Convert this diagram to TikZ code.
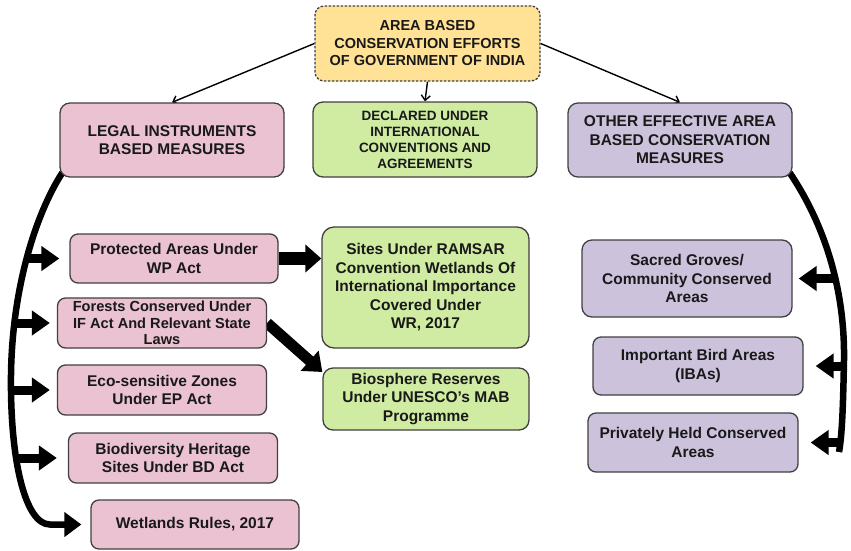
\documentclass[tikz,border=0pt]{standalone}
\usepackage{fontspec}
\setmainfont{Liberation Sans}
\usepackage{xcolor}
\usetikzlibrary{arrows.meta,calc,backgrounds}

\definecolor{edge}{RGB}{64,64,64}
\definecolor{ink}{RGB}{25,25,25}
\definecolor{headfill}{RGB}{255,226,150}
\definecolor{legalfill}{RGB}{234,194,209}
\definecolor{intlfill}{RGB}{207,236,162}
\definecolor{oecmfill}{RGB}{205,194,220}

\begin{document}
\begin{tikzpicture}[x=1pt,y=-1pt,
    box/.style={draw=edge, line width=1.3pt, rounded corners=8pt, align=center,
        inner sep=1pt, text=ink, font=\bfseries\fontsize{15.5}{18.5}\selectfont},
    legalbox/.style={box, fill=legalfill, minimum width=209pt, minimum height=50pt},
    intlbox/.style={box, fill=intlfill, minimum width=207pt},
    oecmbox/.style={box, fill=oecmfill, minimum width=210pt},
    thin/.style={line width=1.4pt, -{Straight Barb[length=5pt,width=9pt]}},
    fat/.style={line width=9pt, -{Triangle[width=24pt,length=18pt]}},
    spine/.style={line width=6.5pt}]
    \useasboundingbox (0,0) rectangle (851,550);

    % top level
    \node[box, fill=headfill, dash pattern=on 2.5pt off 1.5pt, rounded corners=9pt,
        minimum width=225pt, minimum height=75pt,
        font=\bfseries\fontsize{14.5}{17.5}\selectfont] (top) at (427.5,43.5)
        {AREA BASED\\CONSERVATION EFFORTS\\OF GOVERNMENT OF INDIA};

    % three groups
    \node[legalbox, minimum width=224pt, minimum height=74pt, rounded corners=10pt] (legal) at (172,140)
        {LEGAL INSTRUMENTS\\BASED MEASURES};
    \node[intlbox, minimum width=224pt, minimum height=75pt, rounded corners=10pt,
        font=\bfseries\fontsize{13.5}{15.9}\selectfont] (decl) at (425,139.5)
        {DECLARED UNDER\\INTERNATIONAL\\CONVENTIONS AND\\AGREEMENTS};
    \node[oecmbox, minimum width=224pt, minimum height=74pt, rounded corners=10pt] (other) at (680,140)
        {OTHER EFFECTIVE AREA\\BASED CONSERVATION\\MEASURES};

    % legal instruments
    \node[legalbox, minimum width=208pt, minimum height=49pt] (prot) at (174,258.5)
        {Protected Areas Under\\WP Act};
    \node[legalbox, font=\bfseries\fontsize{14.6}{16.3}\selectfont] (forest) at (162,323)
        {Forests Conserved Under\\IF Act And Relevant State\\Laws};
    \node[legalbox] (eco) at (162,390) {Eco-sensitive Zones\\Under EP Act};
    \node[legalbox] (bio) at (173,458) {Biodiversity Heritage\\Sites Under BD Act};
    \node[legalbox, minimum width=208pt, minimum height=49pt] (wet) at (195,524.5)
        {Wetlands Rules, 2017};

    % international designations
    \node[intlbox, minimum height=121pt, rounded corners=12pt] (ramsar) at (425.5,287.5)
        {Sites Under RAMSAR\\Convention Wetlands Of\\International Importance\\Covered Under\\WR, 2017};
    \node[intlbox, minimum width=206pt, minimum height=62pt, rounded corners=10pt] (bios) at (426,399)
        {Biosphere Reserves\\Under UNESCO’s MAB\\Programme};

    % other effective measures
    \node[oecmbox, minimum height=77pt, rounded corners=10pt] (sacred) at (687,278.5)
        {Sacred Groves/\\Community Conserved\\Areas};
    \node[oecmbox, minimum height=58pt] (ibas) at (698,366) {Important Bird Areas\\(IBAs)};
    \node[oecmbox, minimum height=59pt] (priv) at (693,442.5) {Privately Held Conserved\\Areas};

    \begin{scope}[on background layer]
        \draw[thin] (top.west) -- (legal.north);
        \draw[thin] (top.east) -- (other.north);
        \draw[thin] (top.south) -- (decl.north);

        % left bracket
        \coordinate (l1) at (27,258.5);
        \coordinate (l2) at (14,323);
        \coordinate (l3) at (11,390);
        \coordinate (l4) at (17,458);
        \draw[spine, -{Triangle[width=24pt,length=17pt]}, shorten >=9pt]
            ($(legal.south west)+(3,-5)$) .. controls (35,215) and (12,290) .. (11,375)
            .. controls (10,460) and (25,524.5) .. (50,524.5) -- (wet.west);
        \draw[fat, shorten >=10pt] (l1) -- (prot.west);
        \draw[fat, shorten >=7pt] (l2) -- (forest.west);
        \draw[fat, shorten >=7pt] (l3) -- (eco.west);
        \draw[fat, shorten >=11pt] (l4) -- (bio.west);

        % right bracket
        \coordinate (r1) at (835,278.5);
        \coordinate (r2) at (844,366);
        \coordinate (r3) at (841,442.5);
        \draw[spine] ($(other.south east)+(-3,-5)$) .. controls (825,225) and (845,290) .. (844,360)
            .. controls (843,410) and (842,435) .. (839,452);
        \draw[fat, shorten >=6pt] (r1) -- (sacred.east);
        \draw[fat, shorten >=12pt] (r2) -- (ibas.east);
        \draw[fat, shorten >=12pt] (r3) -- (priv.east);

        % links to international designations
        \draw[line width=13pt, -{Triangle[width=27pt,length=16pt]}] (prot.east) -- (prot.east -| ramsar.west);
        \draw[line width=11pt, -{Triangle[width=26pt,length=17pt]}] (forest.east) -- ($(bios.west)+(0,-27)$);
    \end{scope}
\end{tikzpicture}
\end{document}
